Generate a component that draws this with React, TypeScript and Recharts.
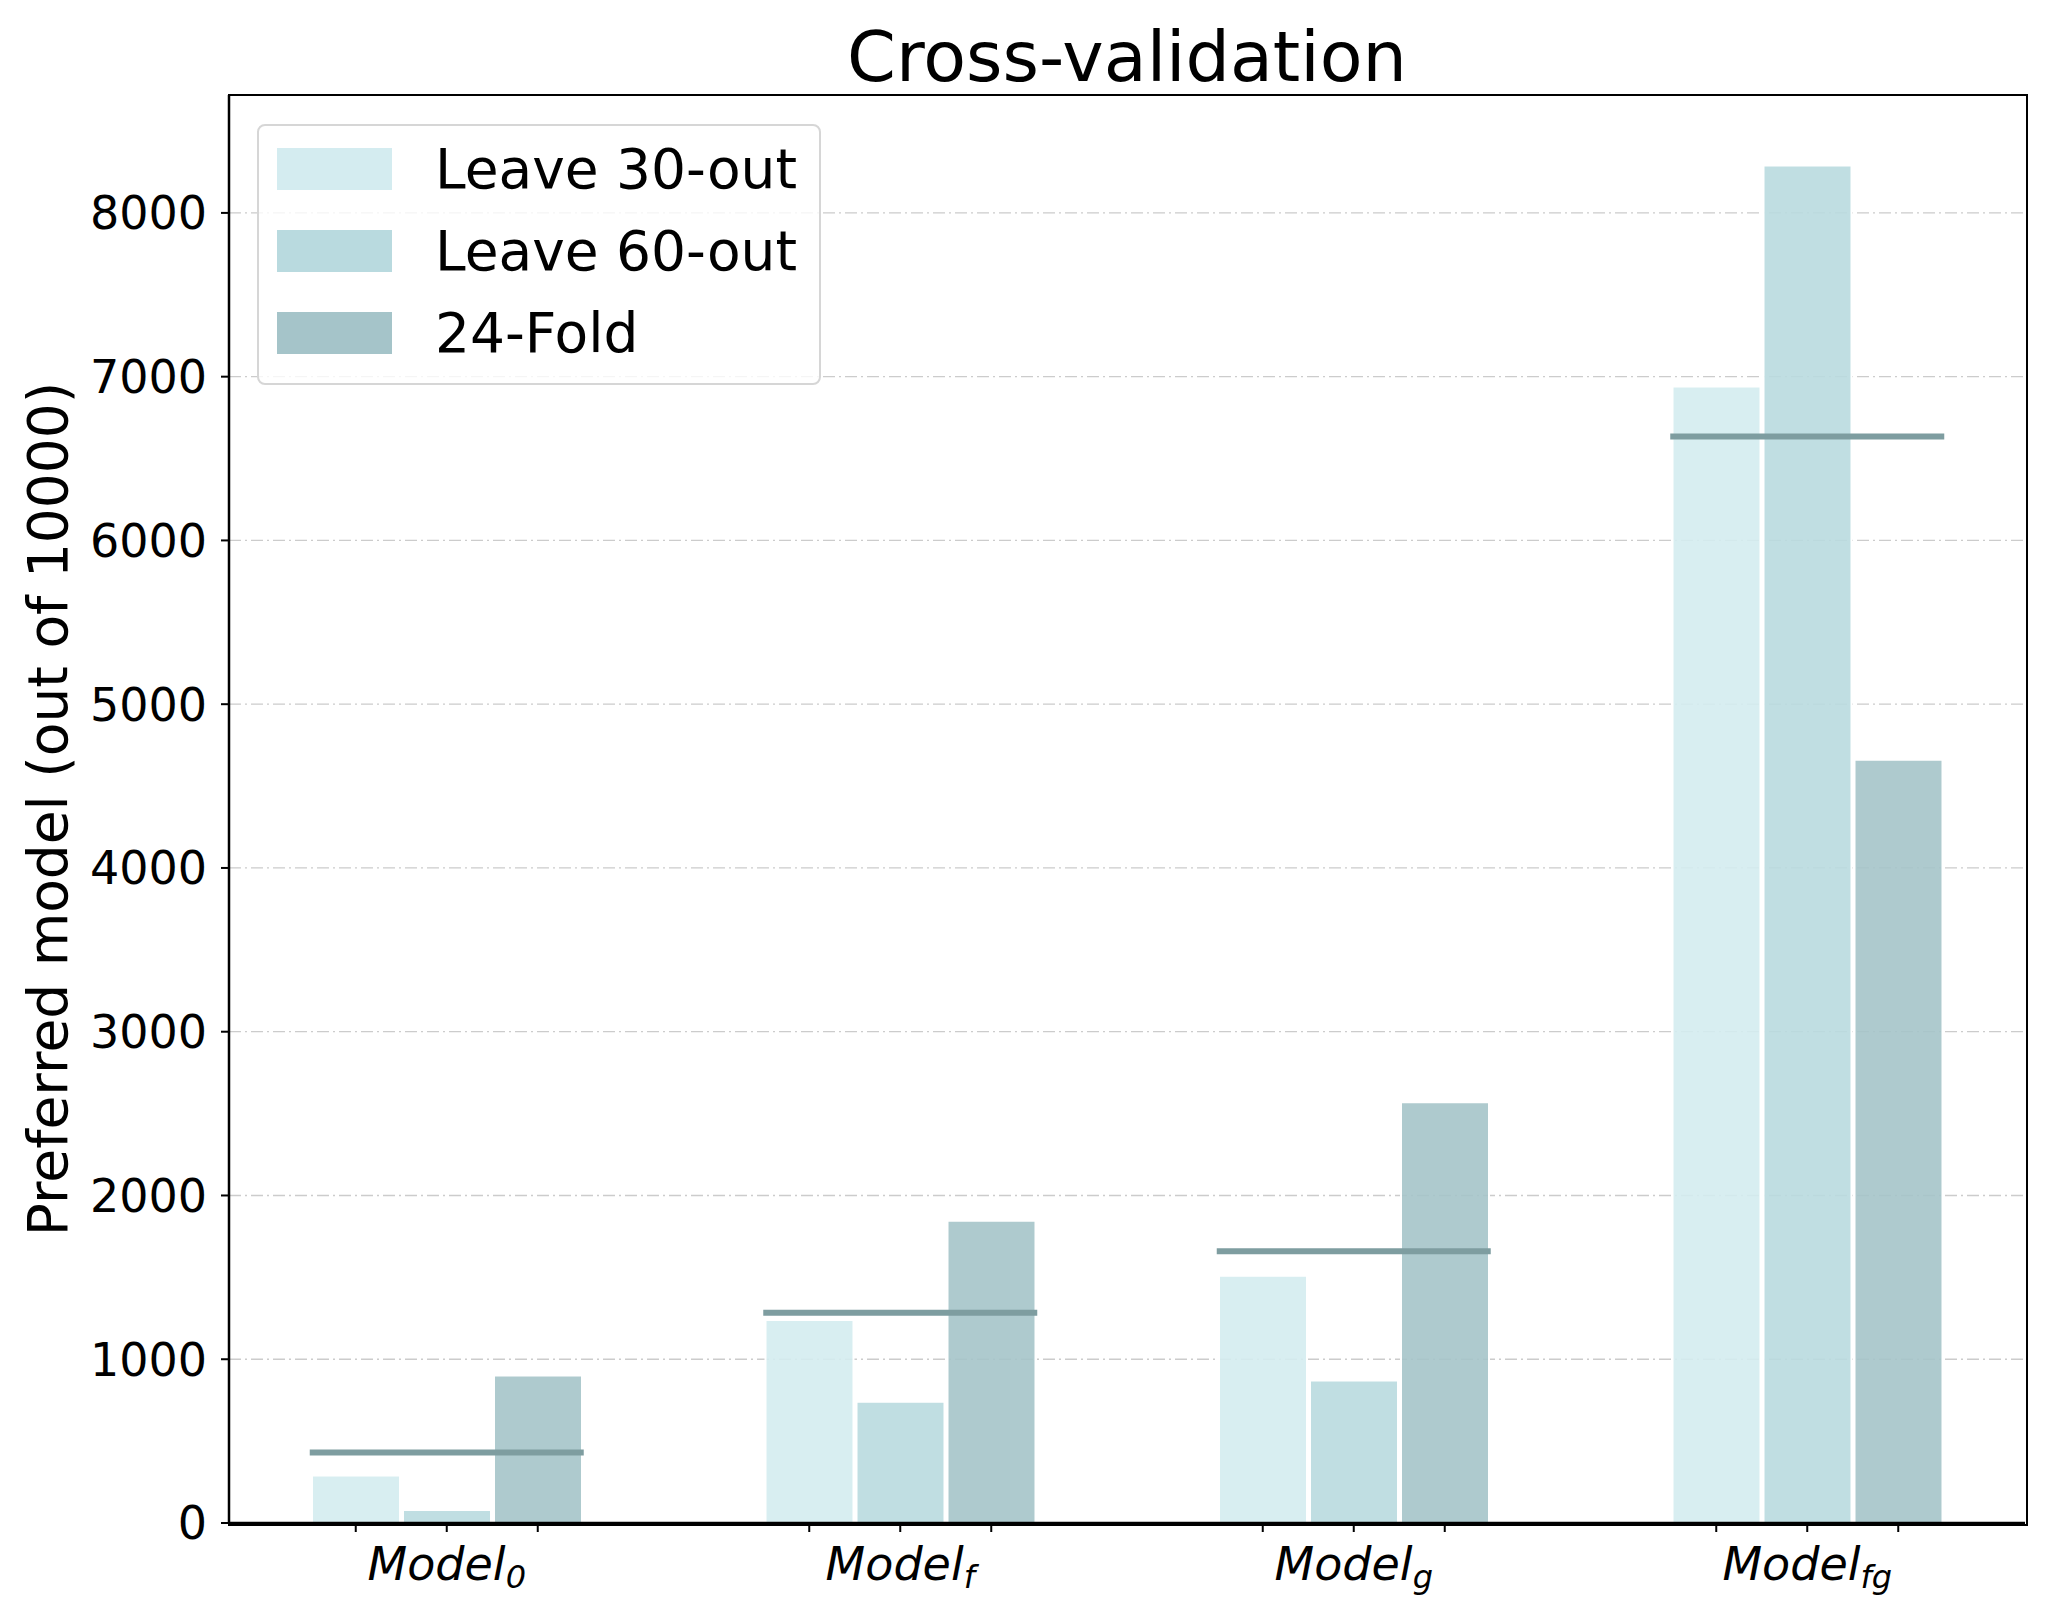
import { ComposedChart, Bar, Line, XAxis, YAxis, CartesianGrid, Legend } from 'recharts'

const SUBSCRIPTS = ['0', 'f', 'g', 'fg']
const LEAVE_30 = [290, 1240, 1510, 6940]
const LEAVE_60 = [80, 740, 870, 8290]
const FOLD_24 = [900, 1845, 2570, 4660]
const MEAN = [430, 1284, 1659, 6635]
const Y_TICKS = [0, 1000, 2000, 3000, 4000, 5000, 6000, 7000, 8000]

const SERIES = [
  { key: 'l30', name: 'Leave 30-out', color: '#d4ecf0' },
  { key: 'l60', name: 'Leave 60-out', color: '#b9dadf' },
  { key: 'fold', name: '24-Fold', color: '#a5c4c9' },
]

const data = SUBSCRIPTS.map((s, i) => ({
  model: s,
  l30: LEAVE_30[i],
  l60: LEAVE_60[i],
  fold: FOLD_24[i],
  mean: MEAN[i],
}))

const W = 2048
const H = 1620
const PLOT = { left: 229, top: 95, right: 2025, bottom: 1523 }
const X_AXIS_H = H - PLOT.bottom
const MARGIN = { top: PLOT.top, right: W - PLOT.right, bottom: 0, left: 0 }
const BAR = 88
const GAP = 3
const FONT = '"DejaVu Sans", sans-serif'

// label with subscript + a tick under every bar of the group
function ModelTick({ x, payload }: any) {
  const step = BAR + GAP
  return (
    <g>
      {[-1, 0, 1].map((k) => (
        <line key={k} x1={x + k * step} x2={x + k * step} y1={PLOT.bottom} y2={PLOT.bottom + 9} stroke="#000" strokeWidth={2} />
      ))}
      <text x={x} y={PLOT.bottom + 57} textAnchor="middle" fontFamily={FONT} fontSize={46} fontStyle="italic" fill="#000">
        Model
        <tspan fontSize={32} dy={8}>{payload.value}</tspan>
      </text>
    </g>
  )
}

const MeanDash = ({ cx, cy }: any) => {
  if (cx == null || cy == null) return null
  return <line x1={cx - 137} x2={cx + 137} y1={cy} y2={cy} stroke="#7e9da0" strokeWidth={6} />
}

function LegendBox({ payload }: any) {
  const items = SERIES.map((s) => (payload || []).find((p: any) => p.dataKey === s.key)).filter(Boolean)
  return (
    <div
      style={{
        width: 564,
        height: 261,
        boxSizing: 'border-box',
        border: '2.5px solid #d6d6d6',
        borderRadius: 8,
        background: 'rgba(255,255,255,0.8)',
        padding: '2px 0 0 18px',
        fontFamily: FONT,
      }}
    >
      {items.map((it: any) => (
        <div key={it.value} style={{ height: 82, display: 'flex', alignItems: 'center' }}>
          <div style={{ width: 115, height: 42, background: it.color, marginRight: 43 }} />
          <span style={{ fontSize: 55, color: '#000', lineHeight: 1 }}>{it.value}</span>
        </div>
      ))}
    </div>
  )
}

export default function App() {
  return (
    <div style={{ position: 'absolute', left: 0, top: 0, width: W, height: H, background: '#fff' }}>
      <div
        style={{
          position: 'absolute',
          left: PLOT.left,
          width: PLOT.right - PLOT.left,
          top: 22,
          textAlign: 'center',
          fontFamily: FONT,
          fontSize: 70,
          lineHeight: '70px',
          color: '#000',
        }}
      >
        Cross-validation
      </div>
      <ComposedChart width={W} height={H} data={data} margin={MARGIN} barSize={BAR} barGap={GAP}>
        <CartesianGrid vertical={false} stroke="#cccccc" strokeWidth={1.3} strokeDasharray="12 4 2 4" />
        <XAxis
          dataKey="model"
          tick={<ModelTick />}
          tickLine={false}
          axisLine={{ stroke: '#000', strokeWidth: 2.5 }}
          height={X_AXIS_H}
          interval={0}
          padding={{ left: -9, right: -9 }}
        />
        <YAxis
          width={PLOT.left}
          domain={[0, 8720]}
          ticks={Y_TICKS}
          allowDataOverflow
          tick={{ fontSize: 46, fill: '#000', fontFamily: FONT }}
          tickSize={8}
          tickMargin={14}
          tickLine={{ stroke: '#000', strokeWidth: 2 }}
          axisLine={{ stroke: '#000', strokeWidth: 2.5 }}
          label={{
            content: () => (
              <text
                x={48}
                y={809}
                transform="rotate(-90 48 809)"
                textAnchor="middle"
                dominantBaseline="central"
                fontFamily={FONT}
                fontSize={55}
                fill="#000"
              >
                Preferred model (out of 10000)
              </text>
            ),
          }}
        />
        <Legend
          content={<LegendBox />}
          layout="vertical"
          align="center"
          verticalAlign="middle"
          wrapperStyle={{ position: 'absolute', top: 124, left: 257, width: 564, height: 261 }}
        />
        {SERIES.map((s) => (
          <Bar
            key={s.key}
            dataKey={s.key}
            name={s.name}
            fill={s.color}
            fillOpacity={0.9}
            stroke="#ffffff"
            strokeWidth={2}
            isAnimationActive={false}
          />
        ))}
        <Line
          dataKey="mean"
          stroke="none"
          legendType="none"
          dot={(p: any) => <MeanDash key={`mean-${p.index}`} {...p} />}
          activeDot={false}
          isAnimationActive={false}
        />
      </ComposedChart>
      {/* axes frame (top/right spines) */}
      <div
        style={{
          position: 'absolute',
          left: PLOT.left - 1.25,
          top: PLOT.top - 1.25,
          width: PLOT.right - PLOT.left,
          height: PLOT.bottom - PLOT.top,
          border: '2.5px solid #000',
          pointerEvents: 'none',
        }}
      />
    </div>
  )
}
